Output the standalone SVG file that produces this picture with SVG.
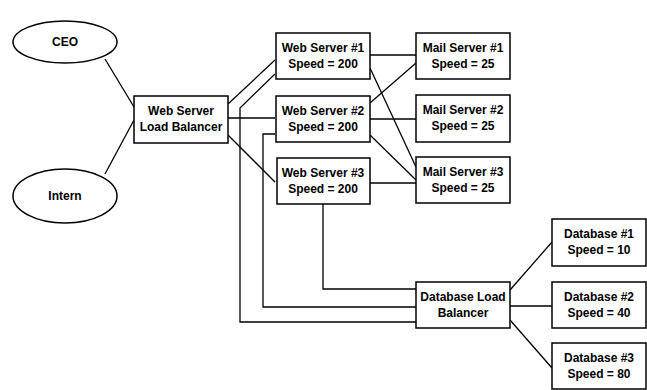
<svg xmlns="http://www.w3.org/2000/svg" width="647" height="390" viewBox="0 0 647 390">
<style>
.n{fill:#fff;stroke:#000;stroke-width:1.5}
.t{font-family:"Liberation Sans",Arial,sans-serif;font-weight:bold;font-size:12px;text-anchor:middle;fill:#000}
.c{fill:none;stroke:#000;stroke-width:1.3}
</style>
<rect width="647" height="390" fill="#fff"/>
<g id="connectors">
<line class="c" x1="105" y1="59" x2="134" y2="107"/>
<line class="c" x1="105" y1="174" x2="134" y2="120"/>
<line class="c" x1="228" y1="104" x2="275" y2="60"/>
<line class="c" x1="228" y1="118" x2="275" y2="118"/>
<line class="c" x1="228" y1="135" x2="275" y2="182"/>
<polyline class="c" points="275,74 240,108 240,322 416,322"/>
<polyline class="c" points="275,134 263,134 263,307 416,307"/>
<polyline class="c" points="323,204 323,289 416,289"/>
<line class="c" x1="370" y1="55" x2="416" y2="55"/>
<line class="c" x1="370" y1="68" x2="416" y2="167"/>
<line class="c" x1="370" y1="103" x2="416" y2="63"/>
<line class="c" x1="370" y1="119" x2="416" y2="119"/>
<line class="c" x1="370" y1="135" x2="416" y2="180"/>
<line class="c" x1="370" y1="183" x2="416" y2="183"/>
<line class="c" x1="510" y1="290" x2="552" y2="242"/>
<line class="c" x1="510" y1="306" x2="552" y2="306"/>
<line class="c" x1="510" y1="320" x2="552" y2="368"/>
</g>
<g id="ceo"><ellipse class="n" cx="65" cy="42" rx="52" ry="21"/><text class="t" x="65" y="46">CEO</text></g>
<g id="intern"><ellipse class="n" cx="65" cy="196" rx="52" ry="27"/><text class="t" x="65" y="200">Intern</text></g>
<g id="wslb"><rect class="n" x="134" y="96" width="94" height="47"/><text class="t" x="181" y="115">Web Server</text><text class="t" x="181" y="131">Load Balancer</text></g>
<g id="ws1"><rect class="n" x="276" y="33" width="94" height="46"/><text class="t" x="323" y="52">Web Server #1</text><text class="t" x="323" y="68">Speed = 200</text></g>
<g id="ws2"><rect class="n" x="276" y="96" width="94" height="46"/><text class="t" x="323" y="115">Web Server #2</text><text class="t" x="323" y="131">Speed = 200</text></g>
<g id="ws3"><rect class="n" x="277" y="158" width="93" height="46"/><text class="t" x="323" y="177">Web Server #3</text><text class="t" x="323" y="193">Speed = 200</text></g>
<g id="ms1"><rect class="n" x="416" y="33" width="94" height="46"/><text class="t" x="463" y="52">Mail Server #1</text><text class="t" x="463" y="68">Speed = 25</text></g>
<g id="ms2"><rect class="n" x="416" y="95" width="94" height="47"/><text class="t" x="463" y="114">Mail Server #2</text><text class="t" x="463" y="130">Speed = 25</text></g>
<g id="ms3"><rect class="n" x="416" y="157" width="94" height="46"/><text class="t" x="463" y="176">Mail Server #3</text><text class="t" x="463" y="192">Speed = 25</text></g>
<g id="dblb"><rect class="n" x="416" y="282" width="94" height="46"/><text class="t" x="463" y="301">Database Load</text><text class="t" x="463" y="317">Balancer</text></g>
<g id="db1"><rect class="n" x="552" y="219" width="94" height="47"/><text class="t" x="599" y="238">Database #1</text><text class="t" x="599" y="254">Speed = 10</text></g>
<g id="db2"><rect class="n" x="552" y="282" width="94" height="46"/><text class="t" x="599" y="301">Database #2</text><text class="t" x="599" y="317">Speed = 40</text></g>
<g id="db3"><rect class="n" x="552" y="343" width="94" height="46"/><text class="t" x="599" y="362">Database #3</text><text class="t" x="599" y="378">Speed = 80</text></g>
</svg>
